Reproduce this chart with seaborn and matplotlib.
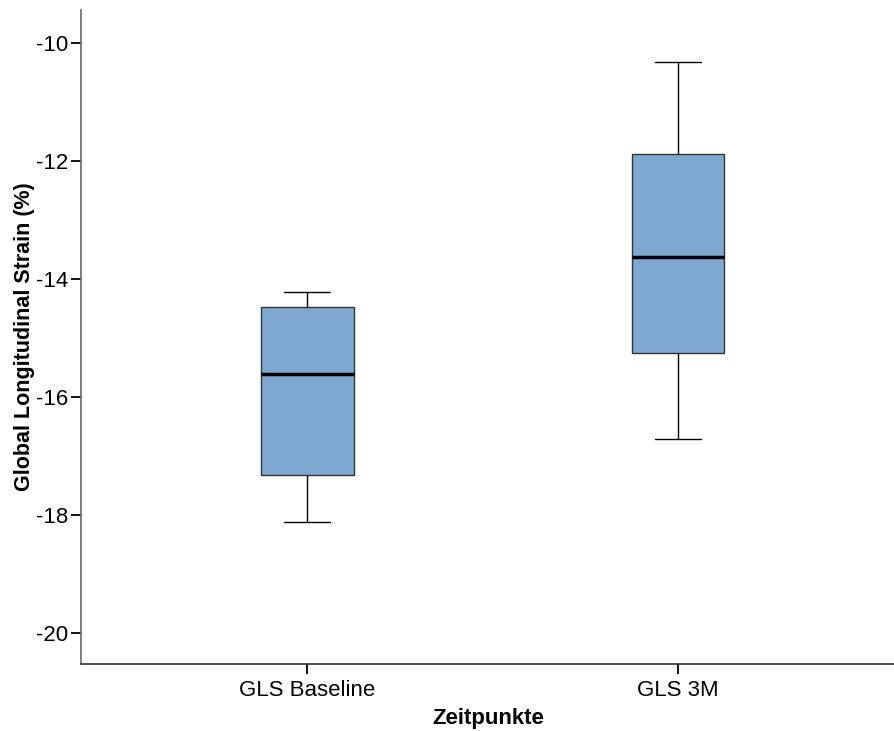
import matplotlib
matplotlib.use("Agg")
import matplotlib.pyplot as plt
import seaborn as sns
import pandas as pd

categories = ["GLS Baseline", "GLS 3M"]
# five-number summaries: min, Q1, median, Q3, max
baseline_vals = [-18.12, -17.33, -15.62, -14.47, -14.23]
m3_vals = [-16.71, -15.26, -13.63, -11.88, -10.32]
yticks = [-20, -18, -16, -14, -12, -10]

df = pd.DataFrame({
    "Zeitpunkte": [categories[0]] * len(baseline_vals) + [categories[1]] * len(m3_vals),
    "GLS": baseline_vals + m3_vals,
})

sns.set_style("white")
plt.rcParams["font.family"] = ["Liberation Sans", "DejaVu Sans"]
plt.rcParams["text.color"] = "black"
plt.rcParams["axes.labelcolor"] = "black"

fig = plt.figure(figsize=(8.95, 7.31), dpi=100)
ax = fig.add_axes([0.0905, 0.0917, 0.9095, 0.8946])

sns.boxplot(data=df, x="Zeitpunkte", y="GLS", order=categories, ax=ax,
            color="#7fa8d0", saturation=1, width=0.25, whis=3,
            linewidth=1.0, linecolor="#333333",
            medianprops=dict(color="black", linewidth=2.5),
            whiskerprops=dict(color="black", linewidth=1.0),
            capprops=dict(color="black", linewidth=1.0))

ax.set_ylim(-20.53, -9.44)
ax.set_xlim(-0.61, 1.585)
ax.set_yticks(yticks)
ax.set_yticklabels([str(t) for t in yticks])
for s in ["top", "right"]:
    ax.spines[s].set_visible(False)
ax.spines["left"].set_color("#666666")
ax.spines["bottom"].set_color("#333333")
for s in ["left", "bottom"]:
    ax.spines[s].set_linewidth(1.2)
ax.tick_params(axis="both", which="both", direction="out", length=7.5, width=1.3,
               color="black", labelcolor="black", labelsize=16, pad=1.5,
               left=True, bottom=True)
ax.tick_params(axis="x", pad=4)
ax.set_xlabel("Zeitpunkte", fontsize=16, fontweight="bold", labelpad=5)
ax.set_ylabel("Global Longitudinal Strain (%)", fontsize=15.5, fontweight="bold", labelpad=1)

fig.savefig("out.png", dpi=100)
